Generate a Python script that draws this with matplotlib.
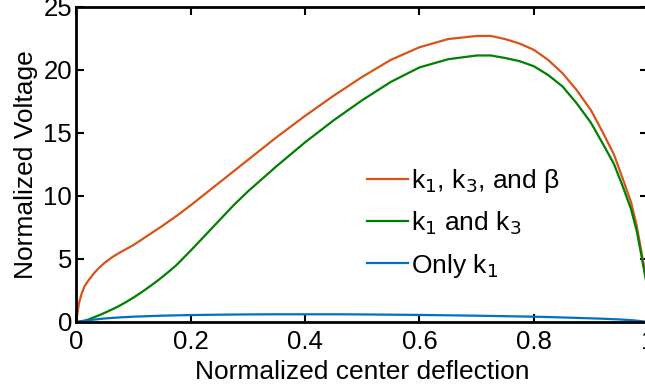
import matplotlib
matplotlib.use("Agg")
import matplotlib.pyplot as plt

plt.rcParams['font.family'] = ['Liberation Sans', 'DejaVu Sans']

# k1, k3 and beta
x_full = [0, 0.005, 0.01, 0.015, 0.02, 0.03, 0.04, 0.05, 0.065, 0.08, 0.1,
          0.125, 0.15, 0.175, 0.2, 0.225, 0.25, 0.275, 0.3, 0.325, 0.35,
          0.375, 0.4, 0.45, 0.5, 0.55, 0.6, 0.65, 0.7, 0.725, 0.75, 0.775,
          0.8, 0.825, 0.85, 0.875, 0.9, 0.92, 0.94, 0.956, 0.97, 0.98, 0.988,
          0.994, 1.0]
y_full = [0, 1.5, 2.3, 2.85, 3.2, 3.8, 4.3, 4.7, 5.2, 5.6, 6.1,
          6.85, 7.6, 8.4, 9.25, 10.15, 11.05, 11.95, 12.85, 13.75, 14.65,
          15.5, 16.35, 17.95, 19.45, 20.8, 21.8, 22.45, 22.7, 22.7, 22.45, 22.1,
          21.6, 20.8, 19.75, 18.4, 16.8, 15.1, 13.3, 11.3, 9.5, 7.6, 5.6,
          4.0, 2.5]

# k1 and k3
x_k13 = [0, 0.01, 0.02, 0.03, 0.04, 0.055, 0.07, 0.085, 0.1, 0.115, 0.13,
         0.145, 0.16, 0.175, 0.2, 0.225, 0.25, 0.275, 0.3, 0.35, 0.4, 0.45,
         0.5, 0.55, 0.6, 0.65, 0.7, 0.725, 0.75, 0.775, 0.8, 0.825, 0.85,
         0.875, 0.9, 0.92, 0.94, 0.956, 0.97, 0.98, 0.988, 0.994, 1.0]
y_k13 = [0, 0.05, 0.17, 0.35, 0.53, 0.83, 1.15, 1.52, 1.93, 2.38, 2.86,
         3.37, 3.92, 4.5, 5.65, 6.85, 8.05, 9.25, 10.35, 12.35, 14.25, 16.0,
         17.6, 19.05, 20.2, 20.85, 21.15, 21.15, 20.95, 20.7, 20.3, 19.6, 18.7,
         17.35, 15.8, 14.2, 12.55, 10.7, 8.95, 7.2, 5.3, 3.8, 2.4]

# only k1
x_k1 = [0, 0.01, 0.025, 0.05, 0.075, 0.1, 0.15, 0.2, 0.25, 0.3, 0.35, 0.4,
        0.45, 0.5, 0.55, 0.6, 0.65, 0.7, 0.75, 0.8, 0.85, 0.9, 0.925, 0.95,
        0.975, 1.0]
y_k1 = [0, 0.07, 0.16, 0.28, 0.36, 0.42, 0.5, 0.55, 0.58, 0.6, 0.61, 0.61,
        0.61, 0.6, 0.58, 0.56, 0.53, 0.5, 0.46, 0.42, 0.36, 0.29, 0.25, 0.2,
        0.13, 0.0]

labels = ['k$_1$, k$_3$, and β', 'k$_1$ and k$_3$', 'Only k$_1$']
colors = ['#D95319', '#008000', '#0072BD']

fig = plt.figure(figsize=(6.45, 3.87), dpi=100)
ax = fig.add_axes([0.118, 0.168, 0.887, 0.814])

for xs, ys, lab, c in zip([x_full, x_k13, x_k1], [y_full, y_k13, y_k1],
                          labels, colors):
    ax.plot(xs, ys, color=c, lw=1.6, label=lab)

ax.set_xlim(0, 1)
ax.set_ylim(0, 25)
ax.set_xticks([0, 0.2, 0.4, 0.6, 0.8, 1.0])
ax.set_xticklabels(['0', '0.2', '0.4', '0.6', '0.8', '1'])
ax.set_yticks([0, 5, 10, 15, 20, 25])
for s in ax.spines.values():
    s.set_linewidth(2.0)
ax.tick_params(direction='in', length=6, width=1.5, top=True, right=True,
               labelsize=18.5)
ax.tick_params(axis='x', pad=6)
ax.tick_params(axis='y', pad=3)
ax.set_xlabel('Normalized center deflection', fontsize=19, labelpad=4)
ax.set_ylabel('Normalized Voltage', fontsize=19, labelpad=4)

ax.legend(loc='upper left', bbox_to_anchor=(0.49, 0.525), frameon=False,
          fontsize=19, handlelength=1.55, handletextpad=0.1, labelspacing=0.55,
          borderaxespad=0)

fig.savefig('out.png', dpi=100)
